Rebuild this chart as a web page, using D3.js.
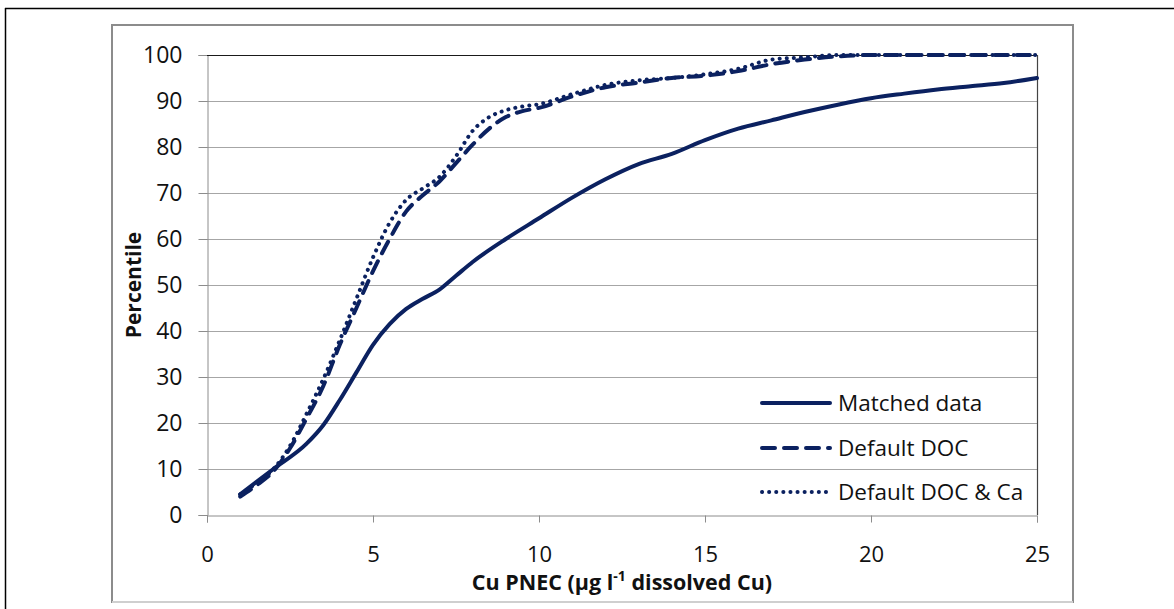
<!DOCTYPE html>
<html>
<head>
<meta charset="utf-8">
<script src="https://cdn.jsdelivr.net/npm/d3@7"></script>
<style>
  html, body { margin: 0; padding: 0; background: #fff; }
  svg { display: block; }
  text { font-family: "Open Sans", "DejaVu Sans", sans-serif; fill: #111; }
</style>
</head>
<body>
<svg id="chart" width="1174" height="609"></svg>
<script>
// ---- data ----
const matchedX = [1, 2, 3, 3.5, 4, 4.5, 5, 5.5, 6, 6.5, 7, 7.5, 8, 9, 10, 11, 12, 13, 14, 15, 16, 17, 18, 19, 20, 21, 22, 23, 24, 25];
const matchedY = [4.5, 10, 15.5, 19.5, 25, 31, 37, 41.5, 44.8, 47, 49, 52, 55, 60, 64.5, 69, 73, 76.3, 78.5, 81.5, 84, 85.8, 87.6, 89.2, 90.6, 91.6, 92.5, 93.2, 93.9, 95];

const docX = [1, 1.5, 2, 2.5, 3, 3.5, 4, 4.5, 5, 5.5, 6, 6.5, 7, 7.5, 8, 8.5, 9, 9.5, 10, 11, 12, 13, 14, 15, 16, 17, 18, 19, 20, 22, 25];
const docY = [4, 6.5, 9.5, 14.5, 21, 28, 37, 45, 53, 60, 66, 69.5, 72.5, 76.5, 80.5, 84, 86.5, 87.8, 88.5, 91, 93, 94, 95, 95.5, 96.5, 98, 99, 99.7, 100, 100, 100];

const docCaX = [1, 1.5, 2, 2.5, 3, 3.5, 4, 4.5, 5, 5.5, 6, 6.5, 7, 7.5, 8, 8.5, 9, 9.5, 10, 11, 12, 13, 14, 15, 16, 17, 18, 19, 20, 22, 25];
const docCaY = [4.5, 7, 10, 15, 22, 29.5, 38, 47, 56, 63.5, 68.5, 71, 73.5, 78, 83.5, 86.5, 88, 88.8, 89.3, 91.5, 93.5, 94.5, 95, 95.8, 97, 99, 99.5, 100, 100, 100, 100];

const seriesNames = ["Matched data", "Default DOC", "Default DOC & Ca"];
const xTicks = [0, 5, 10, 15, 20, 25];
const yTicks = [0, 10, 20, 30, 40, 50, 60, 70, 80, 90, 100];

// ---- layout ----
const svg = d3.select("#chart");
const L = 207, R = 1037, T = 55, B = 515;
const navy = "#0b2160";

const x = d3.scaleLinear().domain([0, 25]).range([L, R]);
const y = d3.scaleLinear().domain([0, 100]).range([B, T]);

// outer frame (top & left only)
svg.append("line").attr("x1", 5).attr("x2", 1174).attr("y1", 8.5).attr("y2", 8.5)
  .attr("stroke", "#000").attr("stroke-width", 1.5);
svg.append("line").attr("x1", 5.5).attr("x2", 5.5).attr("y1", 8).attr("y2", 609)
  .attr("stroke", "#000").attr("stroke-width", 1.5);

// chart area border
svg.append("rect").attr("x", 112).attr("y", 25).attr("width", 961).attr("height", 577)
  .attr("fill", "#fff").attr("stroke", "#8c8c8c").attr("stroke-width", 2);
svg.append("line").attr("x1", 112).attr("x2", 1073).attr("y1", 602).attr("y2", 602)
  .attr("stroke", "#cfcfcf").attr("stroke-width", 2);

// gridlines
svg.append("g").selectAll("line").data(yTicks.filter(d => d > 0 && d < 100)).join("line")
  .attr("x1", L).attr("x2", R)
  .attr("y1", d => Math.round(y(d)) + 0.5).attr("y2", d => Math.round(y(d)) + 0.5)
  .attr("stroke", "#a6a6a6").attr("stroke-width", 1);

// y axis
const yAxis = d3.axisLeft(y).tickValues(yTicks).tickSize(9).tickPadding(16);
const gy = svg.append("g").attr("transform", `translate(${L + 0.5},0)`).call(yAxis);
gy.select(".domain").attr("stroke", "#8c8c8c");
gy.selectAll(".tick line").attr("stroke", "#8c8c8c");
gy.selectAll(".tick text").attr("font-size", 23).attr("fill", "#111")
  .attr("font-family", '"Open Sans", sans-serif');

// x axis
const xAxis = d3.axisBottom(x).tickValues(xTicks).tickSize(7).tickPadding(24);
const gx = svg.append("g").attr("transform", `translate(0,${B + 0.5})`).call(xAxis);
gx.select(".domain").attr("stroke", "#8c8c8c");
gx.selectAll(".tick line").attr("stroke", "#8c8c8c");
gx.selectAll(".tick text").attr("font-size", 22).attr("fill", "#111")
  .attr("font-family", '"Open Sans", sans-serif');

// plot top & right border
svg.append("line").attr("x1", L).attr("x2", R + 0.5).attr("y1", T + 0.5).attr("y2", T + 0.5)
  .attr("stroke", "#1a1a1a").attr("stroke-width", 1.2);
svg.append("line").attr("x1", R + 0.5).attr("x2", R + 0.5).attr("y1", T).attr("y2", B)
  .attr("stroke", "#444").attr("stroke-width", 1.2);

// lines
const line = d3.line().x(d => x(d[0])).y(d => y(d[1])).curve(d3.curveMonotoneX);
const series = [
  { name: seriesNames[0], pts: d3.zip(matchedX, matchedY), dash: null },
  { name: seriesNames[1], pts: d3.zip(docX, docY), dash: "13,9" },
  { name: seriesNames[2], pts: d3.zip(docCaX, docCaY), dash: "0.1,7" }
];
series.slice().reverse().forEach(s => {
  svg.append("path").datum(s.pts).attr("d", line)
    .attr("fill", "none").attr("stroke", navy).attr("stroke-width", 4)
    .attr("stroke-linecap", "round").attr("stroke-linejoin", "round")
    .attr("stroke-dasharray", s.dash);
});

// legend
const legY = [403, 448, 492];
series.forEach((s, i) => {
  svg.append("line").attr("x1", 762).attr("x2", 830).attr("y1", legY[i]).attr("y2", legY[i])
    .attr("stroke", navy).attr("stroke-width", 4)
    .attr("stroke-linecap", "round").attr("stroke-dasharray", s.dash);
  svg.append("text").attr("x", 838).attr("y", legY[i]).attr("dy", "0.35em")
    .attr("font-size", 22.5).text(s.name);
});

// axis titles
svg.append("text").attr("transform", `translate(141,285) rotate(-90)`)
  .attr("text-anchor", "middle").attr("font-size", 21).attr("font-weight", "bold")
  .text("Percentile");

const xt = svg.append("text").attr("x", 622).attr("y", 590).attr("text-anchor", "middle")
  .attr("font-size", 21.5).attr("font-weight", "bold");
xt.append("tspan").text("Cu PNEC (\u00b5g l");
xt.append("tspan").attr("font-size", 14).attr("dy", -9).text("-1");
xt.append("tspan").attr("dy", 9).text(" dissolved Cu)");
</script>
</body>
</html>
